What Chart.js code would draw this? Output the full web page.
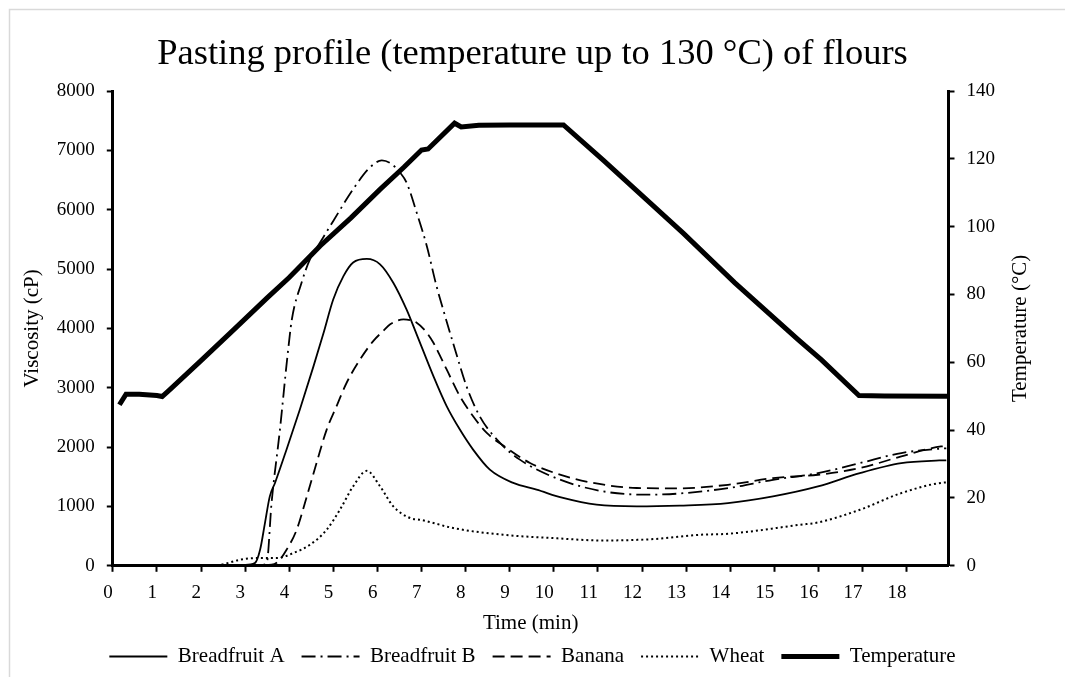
<!DOCTYPE html>
<html>
<head>
<meta charset="utf-8">
<title>Pasting profile</title>
<script src="https://cdn.jsdelivr.net/npm/chart.js@4.4.1/dist/chart.umd.min.js"></script>
<style>
  html, body { margin: 0; padding: 0; background: #fff; }
  #wrap { width: 1065px; height: 677px; }
</style>
</head>
<body>
<div id="wrap"><canvas id="c" width="1065" height="677"></canvas></div>
<script>
// -- DATA -- //
const titleText = 'Pasting profile (temperature up to 130 °C) of flours'
const rightTitle = 'Temperature (°C)'

const timeA = [0.2, 1, 2, 3, 3.22, 3.34, 3.45, 3.56, 3.68, 3.94, 4.24, 4.55, 4.77, 5.0, 5.23, 5.45, 5.76, 6.06, 6.36, 6.66, 6.89, 7.27, 7.57, 7.87, 8.17, 8.55, 9.08, 9.61, 10.21, 10.97, 11.88, 12.86, 13.95, 14.97, 15.99, 16.94, 17.88, 18.74, 18.9]
const viscA = [15, 12, 10, 15, 45, 270, 720, 1170, 1400, 1960, 2630, 3360, 3900, 4490, 4880, 5110, 5170, 5080, 4770, 4320, 3900, 3195, 2690, 2295, 1958, 1620, 1396, 1283, 1143, 1030, 1001, 1015, 1056, 1169, 1337, 1562, 1730, 1775, 1778]

const timeB = [0.2, 1, 2, 3, 3.4, 3.49, 3.6, 3.79, 3.96, 4.06, 4.28, 4.47, 4.7, 5.0, 5.45, 5.83, 6.1, 6.3, 6.51, 6.66, 6.89, 7.12, 7.34, 7.49, 7.76, 8.02, 8.32, 8.78, 9.23, 10.14, 11.12, 12.1, 12.79, 13.95, 14.97, 15.99, 16.94, 17.88, 18.78, 18.9]
const viscB = [10, 10, 8, 10, 15, 45, 1060, 2295, 3530, 4150, 4770, 5165, 5446, 5811, 6346, 6712, 6830, 6780, 6628, 6459, 5953, 5389, 4714, 4321, 3646, 3026, 2520, 2071, 1789, 1452, 1254, 1198, 1215, 1309, 1449, 1562, 1730, 1900, 1975, 1980]

const timeBanana = [0.2, 1, 2, 3, 3.6, 3.75, 3.94, 4.17, 4.4, 4.62, 4.85, 5.08, 5.3, 5.61, 5.91, 6.13, 6.29, 6.59, 6.89, 7.12, 7.27, 7.57, 7.87, 8.17, 8.48, 8.93, 9.46, 10.14, 10.89, 11.88, 12.79, 13.95, 14.97, 15.99, 16.94, 17.88, 18.78, 18.9]
const viscBanana = [5, 5, 5, 8, 20, 73, 270, 608, 1170, 1733, 2295, 2700, 3080, 3480, 3790, 3955, 4068, 4152, 4096, 3927, 3758, 3308, 2857, 2520, 2240, 1987, 1733, 1536, 1396, 1311, 1305, 1365, 1478, 1534, 1646, 1843, 2011, 2015]

const timeWheat = [0.2, 1, 2, 2.43, 2.88, 3.26, 3.72, 4.09, 4.47, 4.85, 5.15, 5.45, 5.76, 6.06, 6.36, 6.74, 6.97, 7.27, 7.72, 8.85, 9.99, 11.12, 12.26, 13.32, 13.95, 15.59, 15.99, 16.94, 17.88, 18.86, 18.9]
const viscWheat = [5, 5, 5, 17, 101, 130, 130, 214, 354, 608, 945, 1339, 1600, 1339, 1001, 805, 776, 721, 636, 523, 467, 427, 450, 523, 539, 692, 730, 944, 1225, 1404, 1405]

const timeTemp = [0.15, 0.3, 0.6, 1.0, 1.12, 1.3, 2.0, 2.75, 3.5, 4.0, 4.7, 5.4, 6.06, 6.6, 7.0, 7.15, 7.75, 7.9, 8.3, 9.0, 10.22, 11.12, 12.94, 14.1, 15.54, 16.07, 16.92, 17.5, 18.92]
const temperature = [47.5, 50.6, 50.6, 50.2, 49.9, 52, 60.5, 69.7, 79, 85, 94.3, 102.6, 111, 117.5, 122.6, 122.9, 130.5, 129.4, 129.9, 130, 130, 119.6, 98, 83.5, 66.7, 60.7, 50.2, 50.1, 50]

const seriesNames = ['Breadfruit A', 'Breadfruit B', 'Banana', 'Wheat', 'Temperature']

const pairs = (xs, ys) => xs.map((x, i) => ({ x: x, y: ys[i] }))

const serif = "'Liberation Serif', 'Times New Roman', serif"

// white page + the thin grey frame of the original figure
const framePlugin = {
  id: 'frame',
  beforeDraw(chart) {
    const ctx = chart.ctx
    ctx.save()
    ctx.fillStyle = '#fff'
    ctx.fillRect(0, 0, chart.width, chart.height)
    ctx.strokeStyle = '#d9d9d9'
    ctx.lineWidth = 1.5
    ctx.beginPath()
    ctx.moveTo(9.5, chart.height + 2)
    ctx.lineTo(9.5, 9.5)
    ctx.lineTo(chart.width + 2, 9.5)
    ctx.stroke()
    ctx.restore()
  },
  // right axis title reads bottom-to-top like the left one
  afterDraw(chart) {
    const ctx = chart.ctx
    const area = chart.chartArea
    ctx.save()
    ctx.translate(1020, (area.top + area.bottom) / 2)
    ctx.rotate(-Math.PI / 2)
    ctx.fillStyle = '#000'
    ctx.font = '21px ' + serif
    ctx.textAlign = 'center'
    ctx.textBaseline = 'middle'
    ctx.fillText(rightTitle, 0, 0)
    ctx.restore()
  }
}

const viscLine = (label, xs, ys, width, dash) => ({
  label: label,
  data: pairs(xs, ys),
  yAxisID: 'y',
  borderColor: '#000',
  borderWidth: width,
  borderDash: dash,
  pointRadius: 0,
  cubicInterpolationMode: 'monotone',
  fill: false
})

const datasets = [
  viscLine(seriesNames[0], timeA, viscA, 1.8, []),
  viscLine(seriesNames[1], timeB, viscB, 1.8, [14, 5, 2, 5]),
  viscLine(seriesNames[2], timeBanana, viscBanana, 1.8, [12, 6]),
  viscLine(seriesNames[3], timeWheat, viscWheat, 2, [2, 3]),
  {
    label: seriesNames[4],
    data: pairs(timeTemp, temperature),
    yAxisID: 'y1',
    borderColor: '#000',
    borderWidth: 5,
    borderDash: [],
    pointRadius: 0,
    tension: 0,
    fill: false
  }
]

const tickFont = { family: serif, size: 19 }
const axisTitleFont = { family: serif, size: 21 }
const plain = v => String(Math.round(v))

new Chart(document.getElementById('c'), {
  type: 'line',
  data: { datasets: datasets },
  plugins: [framePlugin],
  options: {
    responsive: false,
    animation: false,
    layout: { padding: { left: 10, right: 10, top: 10, bottom: 0 } },
    plugins: {
      title: {
        display: true,
        text: titleText,
        color: '#000',
        font: { family: serif, size: 36.5, weight: 'normal' },
        padding: { top: 23, bottom: 14.2 }
      },
      legend: {
        position: 'bottom',
        labels: {
          usePointStyle: true,
          pointStyleWidth: 58,
          padding: 17,
          color: '#000',
          font: { family: serif, size: 21 },
          generateLabels(chart) {
            return chart.data.datasets.map((ds, i) => ({
              text: ds.label,
              datasetIndex: i,
              fillStyle: '#000',
              strokeStyle: '#000',
              lineWidth: ds.borderWidth,
              lineDash: ds.borderDash,
              lineCap: 'butt',
              pointStyle: 'line',
              fontColor: '#000'
            }))
          }
        }
      },
      tooltip: { enabled: false }
    },
    scales: {
      x: {
        type: 'linear',
        min: 0,
        max: 18.95,
        afterFit(scale) { scale.height = 63.2 },
        afterBuildTicks(scale) {
          scale.ticks = scale.ticks.filter(t => Math.abs(t.value - Math.round(t.value)) < 1e-6 && t.value < 18.5)
        },
        ticks: { stepSize: 1, includeBounds: false, align: 'end', color: '#000', font: tickFont, padding: 10, maxRotation: 0, autoSkip: false, callback: plain },
        grid: { drawOnChartArea: false, drawTicks: true, tickLength: 6, tickWidth: 2, tickColor: '#000' },
        border: { color: '#000', width: 3 },
        title: { display: true, text: 'Time (min)', color: '#000', font: axisTitleFont, padding: { top: 0, bottom: -7.4 } }
      },
      y: {
        position: 'left',
        min: 0,
        max: 8000,
        afterFit(scale) { scale.width = 102.8 },
        ticks: { stepSize: 1000, color: '#000', font: tickFont, padding: 12, callback: plain },
        grid: { drawOnChartArea: false, drawTicks: true, tickLength: 6, tickWidth: 2, tickColor: '#000' },
        border: { color: '#000', width: 3 },
        title: { display: true, text: 'Viscosity (cP)', color: '#000', font: axisTitleFont, padding: { top: 9.4, bottom: 0 } }
      },
      y1: {
        position: 'right',
        min: 0,
        max: 140,
        afterFit(scale) { scale.width = 106.5 },
        ticks: { stepSize: 20, color: '#000', font: tickFont, padding: 12, callback: plain },
        grid: { drawOnChartArea: false, drawTicks: true, tickLength: 6, tickWidth: 2, tickColor: '#000' },
        border: { color: '#000', width: 3 },
        title: { display: false }
      }
    }
  }
})
</script>
</body>
</html>
